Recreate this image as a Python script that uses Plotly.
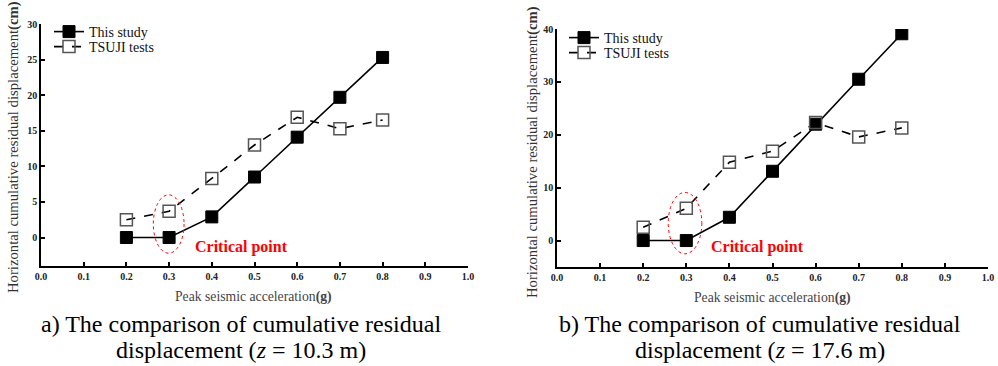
import plotly.graph_objects as go

# ---- data ----
pga = [0.2, 0.3, 0.4, 0.5, 0.6, 0.7, 0.8]
study_a = [0.0, 0.0, 2.9, 8.5, 14.1, 19.7, 25.3]
tsuji_a = [2.5, 3.7, 8.3, 13.0, 16.9, 15.3, 16.5]
study_b = [0.0, 0.0, 4.4, 13.1, 22.0, 30.5, 39.1]
tsuji_b = [2.5, 6.1, 14.8, 16.9, 22.3, 19.6, 21.3]
x_ticks = [0.0, 0.1, 0.2, 0.3, 0.4, 0.5, 0.6, 0.7, 0.8, 0.9, 1.0]
y_ticks_a = [0, 5, 10, 15, 20, 25, 30]
y_ticks_b = [0, 10, 20, 30, 40]
captions_l1 = ["a) The comparison of cumulative residual",
               "b) The comparison of cumulative residual"]
captions_l2 = ["displacement (<i>z</i> = 10.3 m)", "displacement (<i>z</i> = 17.6 m)"]

W, H = 998, 366
SERIF = "Liberation Serif, Times New Roman, serif"

def px(p):
    return p / W

def py(p):
    return 1 - p / H

fig = go.Figure()

def add_pair(study, tsuji, xa, ya, leg1, leg2):
    fig.add_trace(go.Scatter(x=pga, y=study, name="This study", mode="lines+markers",
                             line=dict(color="black", width=1.6),
                             marker=dict(symbol="square", size=12, color="black",
                                         line=dict(color="black", width=1)),
                             xaxis=xa, yaxis=ya, legend=leg1))
    fig.add_trace(go.Scatter(x=pga, y=tsuji, name="TSUJI tests", mode="lines+markers",
                             line=dict(color="black", width=1.6, dash="dash"),
                             marker=dict(symbol="square-open", size=12, color="#555555",
                                         line=dict(color="#555555", width=1.5)),
                             xaxis=xa, yaxis=ya, legend=leg2))

add_pair(study_a, tsuji_a, "x", "y", "legend", "legend2")
add_pair(study_b, tsuji_b, "x2", "y2", "legend3", "legend4")

axis_common = dict(showline=True, linecolor="black", linewidth=1.6, ticks="inside",
                   ticklen=4, tickwidth=1.6, tickcolor="black", showgrid=False,
                   zeroline=False, mirror=False, automargin=False,
                   tickfont=dict(family=SERIF, size=10, color="#222222", weight="bold"))

def leg(xp, yp):
    return dict(x=px(xp), y=py(yp), xanchor="left", yanchor="top",
                bgcolor="rgba(0,0,0,0)", font=dict(family=SERIF, size=14, color="#111"),
                itemwidth=30)

fig.update_layout(
    width=W, height=H, margin=dict(l=0, r=0, t=0, b=0),
    paper_bgcolor="white", plot_bgcolor="white",
    xaxis=dict(domain=[px(41), px(468)], range=[0, 1.0], tickvals=x_ticks,
               tickformat=".1f", anchor="y", **axis_common),
    yaxis=dict(domain=[py(266), py(24)], range=[-4, 30], tickvals=y_ticks_a,
               anchor="x", **axis_common),
    xaxis2=dict(domain=[px(557), px(988)], range=[0, 1.0], tickvals=x_ticks,
                tickformat=".1f", anchor="y2", **axis_common),
    yaxis2=dict(domain=[py(267), py(29)], range=[-5, 40], tickvals=y_ticks_b,
                anchor="x2", **axis_common),
    legend=leg(49, 16), legend2=leg(49, 31),
    legend3=leg(564, 22), legend4=leg(564, 37),
    showlegend=True,
)

# critical-point ellipses
fig.add_shape(type="circle", xref="x", yref="y", x0=0.263, x1=0.335, y0=-2.2, y1=6.0,
              line=dict(color="red", width=1, dash="dot"))
fig.add_shape(type="circle", xref="x2", yref="y2", x0=0.258, x1=0.336, y0=-2.5, y1=9.1,
              line=dict(color="red", width=1, dash="dot"))

ann = []
for xr, yr, xv, yv in [("x", "y", 0.355, -1.4), ("x2", "y2", 0.352, -1.3)]:
    ann.append(dict(text="Critical point", xref=xr, yref=yr, x=xv, y=yv, xanchor="left",
                    yanchor="middle", showarrow=False,
                    font=dict(family=SERIF, size=16, color="red", weight="bold")))

# axis titles
for xp, yp in [(13, 147), (532, 152)]:
    ann.append(dict(text="Horizontal cumulative residual displacement<b>(cm)</b>",
                    xref="paper", yref="paper", x=px(xp), y=py(yp), textangle=-90,
                    showarrow=False, xanchor="center", yanchor="middle",
                    font=dict(family=SERIF, size=14.7, color="#333333")))
for xp, yp in [(254, 297), (772, 298)]:
    ann.append(dict(text="Peak seismic acceleration<b>(g)</b>", xref="paper", yref="paper",
                    x=px(xp), y=py(yp), showarrow=False, xanchor="center",
                    yanchor="middle", font=dict(family=SERIF, size=13.7, color="#444444")))
# captions
for xp, l1, l2 in zip([241, 760], captions_l1, captions_l2):
    for yp, txt in [(324, l1), (350, l2)]:
        ann.append(dict(text=txt, xref="paper", yref="paper", x=px(xp), y=py(yp),
                        showarrow=False, xanchor="center", yanchor="middle",
                        font=dict(family=SERIF, size=24, color="black")))

fig.update_layout(annotations=ann)
fig.write_html("out.html", config={"displayModeBar": False},
               post_script="document.body.style.margin='0';"
                           "document.body.style.overflow='hidden';")
